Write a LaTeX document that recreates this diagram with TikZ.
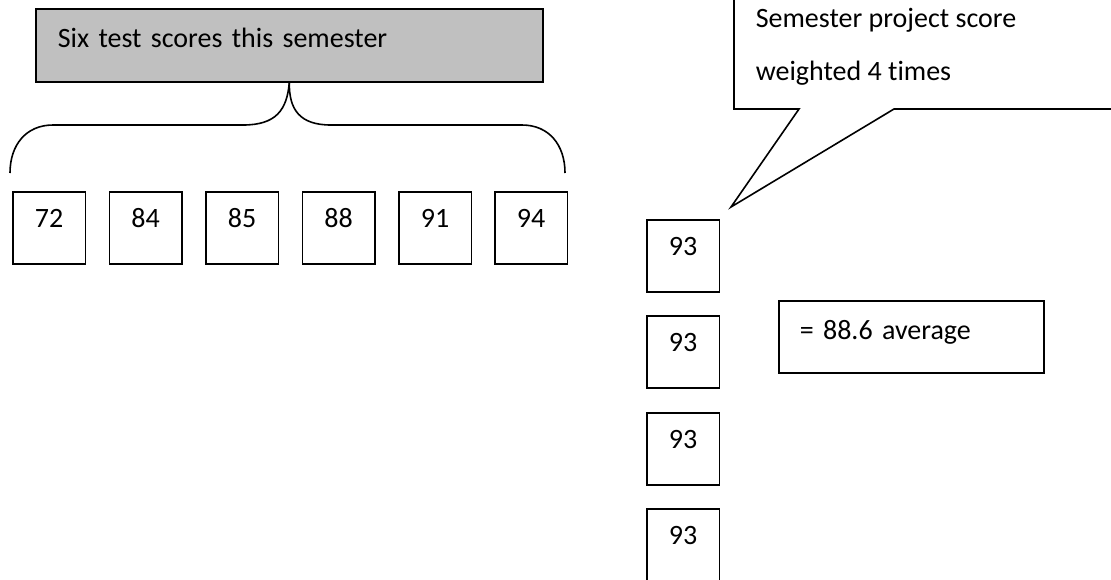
\documentclass[tikz,border=0pt]{standalone}
\usepackage{fontspec}
\setmainfont{Carlito}[Ligatures=NoCommon]
\definecolor{boxgray}{HTML}{C0C0C0}
\begin{document}
\begin{tikzpicture}[x=1pt,y=-1pt,line width=1.6pt,
  txt/.style={font=\fontsize{28}{33}\selectfont},
  numbox/.style={txt,draw,anchor=north west,minimum width=72.5pt,inner sep=0pt,text height=36pt,text depth=36pt},
  headbox/.style={txt,draw,fill=boxgray,anchor=north west,text width=463pt,inner xsep=22pt,inner ysep=0pt,text height=39pt,text depth=34pt,align=left},
  avgbox/.style={txt,draw,anchor=north west,text width=223pt,inner xsep=21pt,inner ysep=0pt,text height=39pt,text depth=33pt,align=left},
  calltxt/.style={txt,anchor=base west,inner sep=0pt}]
\useasboundingbox (0,0) rectangle (1111,579);
% heading box
\node[headbox] (head) at (35,8) {Six test scores this semester};
% brace
\draw (head.south) .. controls (287,110) and (276,125) .. (243,125) -- (53,125)
      .. controls (26,125) and (10,145) .. (10,173);
\draw (head.south) .. controls (289,110) and (300,125) .. (331,125) -- (522,125)
      .. controls (549,125) and (565,145) .. (565,173);
% six test boxes
\node[numbox] (s1) at (12,191) {72};
\node[numbox] (s2) at (108.5,191) {84};
\node[numbox] (s3) at (205,191) {85};
\node[numbox] (s4) at (301.5,191) {88};
\node[numbox] (s5) at (398,191) {91};
\node[numbox] (s6) at (494,191) {94};
% project boxes
\node[numbox] (p1) at (646,219) {93};
\node[numbox] (p2) at (646,315) {93};
\node[numbox] (p3) at (646,412) {93};
\node[numbox] (p4) at (646,508) {93};
% average
\node[avgbox] (avg) at (778,300) {= 88.6 average};
% callout
\coordinate (tip) at (731,207);
\draw[fill=white] (734,-5) -- (734,109) -- (799,109) -- (tip) -- (894,109) -- (1116,109);
\node[calltxt] (c1) at (755,27) {Semester project score};
\node[calltxt] (c2) at (755,80) {weighted 4 times};
\end{tikzpicture}
\end{document}
